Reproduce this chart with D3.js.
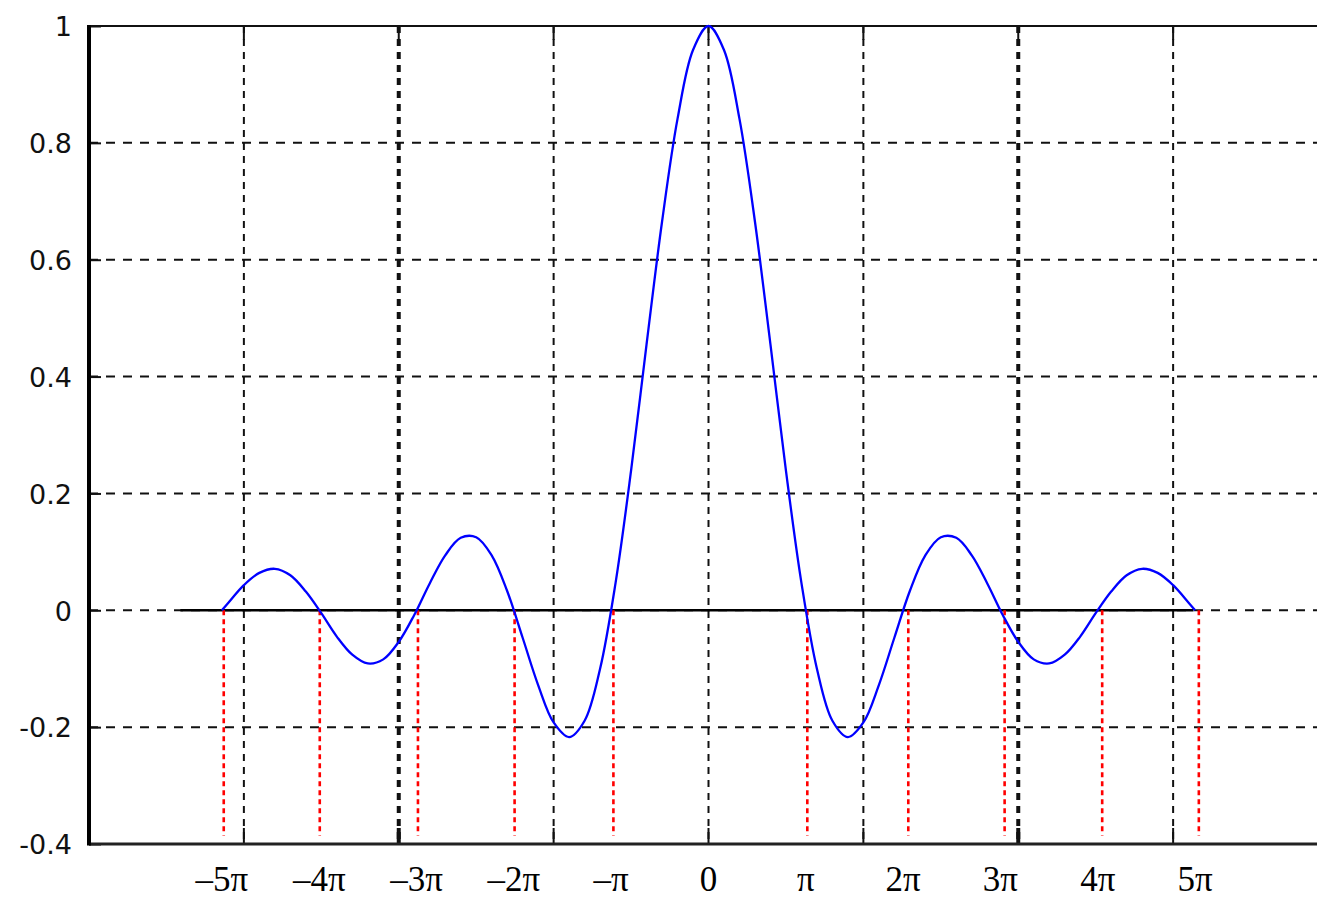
<!DOCTYPE html>
<html>
<head>
<meta charset="utf-8">
<script src="https://cdn.jsdelivr.net/npm/d3@7"></script>
<style>
  body { margin: 0; background: #fff; }
  svg { display: block; }
  .ylab text { font-family: "DejaVu Sans", sans-serif; font-size: 27px; fill: #111; }
  .xlab text { font-family: "Liberation Serif", "Times New Roman", serif; font-size: 35px; fill: #000; }
</style>
</head>
<body>
<svg id="chart" width="1317" height="900"></svg>
<script>
// sinc curve, values
var curveX = [-15.71, -15.5, -15, -14.5, -14, -13.5, -13, -12.5, -12, -11.5, -11, -10.5, -10, -9.5, -9, -8.5, -8, -7.5, -7, -6.5, -6, -5.5, -5, -4.5, -4, -3.5, -3, -2.5, -2, -1.5, -1, -0.5,
  0, 0.5, 1, 1.5, 2, 2.5, 3, 3.5, 4, 4.5, 5, 5.5, 6, 6.5, 7, 7.5, 8, 8.5, 9, 9.5, 10, 10.5, 11, 11.5, 12, 12.5, 13, 13.5, 14, 14.5, 15, 15.5, 15.71];
var curveY = [0, 0.013, 0.043, 0.064, 0.071, 0.060, 0.032, -0.005, -0.045, -0.076, -0.091, -0.084, -0.054, -0.008, 0.046, 0.094, 0.124, 0.125, 0.094, 0.033, -0.047, -0.128, -0.192, -0.217, -0.189, -0.100, 0.047, 0.239, 0.455, 0.665, 0.841, 0.959,
  1, 0.959, 0.841, 0.665, 0.455, 0.239, 0.047, -0.100, -0.189, -0.217, -0.192, -0.128, -0.047, 0.033, 0.094, 0.125, 0.124, 0.094, 0.046, -0.008, -0.054, -0.084, -0.091, -0.076, -0.045, -0.005, 0.032, 0.060, 0.071, 0.064, 0.043, 0.013, 0];

// zero markers (red dotted) as drawn
var zeroMarks = [-15.65, -12.55, -9.38, -6.26, -3.07, 3.19, 6.45, 9.56, 12.71, 15.83];
var zeroMarkBottom = -0.386;
var zeroLine = [-17.05, 15.66];

var yTicks = [-0.4, -0.2, 0, 0.2, 0.4, 0.6, 0.8, 1];
var xGrid = [-15, -10, -5, 0, 5, 10, 15];
var xGridBold = [-10, 10];
var piMult = [-5, -4, -3, -2, -1, 0, 1, 2, 3, 4, 5];
var piLabels = ['\u20135\u03c0', '\u20134\u03c0', '\u20133\u03c0', '\u20132\u03c0', '\u2013\u03c0', '0', '\u03c0', '2\u03c0', '3\u03c0', '4\u03c0', '5\u03c0'];

var svg = d3.select('#chart');
var x = d3.scaleLinear().domain([-20, 20]).range([89, 1328]);
var y = d3.scaleLinear().domain([-0.4, 1]).range([844, 26]);
var x0 = x.range()[0], x1 = x.range()[1], yTop = y.range()[1], yBot = y.range()[0];

// grid
var grid = svg.append('g');
grid.selectAll('.hg').data(yTicks.filter(function(d) { return d > -0.4 && d < 1; })).join('line')
  .attr('x1', x0).attr('x2', x1).attr('y1', function(d) { return y(d); }).attr('y2', function(d) { return y(d); })
  .attr('stroke', '#111').attr('stroke-width', 2).attr('stroke-dasharray', '9,8');
grid.selectAll('.vg').data(xGrid).join('line')
  .attr('x1', function(d) { return x(d); }).attr('x2', function(d) { return x(d); })
  .attr('y1', yTop).attr('y2', yBot)
  .attr('stroke', '#111')
  .attr('stroke-width', function(d) { return xGridBold.indexOf(d) >= 0 ? 4 : 2; })
  .attr('stroke-dasharray', '7,6');

// tick marks (inside)
svg.append('g').selectAll('line').data(xGrid).join('line')
  .attr('x1', function(d) { return x(d); }).attr('x2', function(d) { return x(d); })
  .attr('y1', yBot).attr('y2', yBot - 16)
  .attr('stroke', '#111').attr('stroke-width', function(d) { return xGridBold.indexOf(d) >= 0 ? 4 : 2; });
svg.append('g').selectAll('line').data(xGrid).join('line')
  .attr('x1', function(d) { return x(d); }).attr('x2', function(d) { return x(d); })
  .attr('y1', yTop).attr('y2', yTop + 14)
  .attr('stroke', '#111').attr('stroke-width', 2);

// y axis labels + ticks
var yAxis = svg.append('g').attr('class', 'ylab').attr('transform', 'translate(' + x0 + ',0)')
  .call(d3.axisLeft(y).tickValues(yTicks).tickSizeInner(-12).tickSizeOuter(0).tickPadding(17)
    .tickFormat(function(d) { return String(d); }));
yAxis.select('.domain').remove();
yAxis.selectAll('line').attr('stroke', '#111').attr('stroke-width', 2);
yAxis.selectAll('text').attr('dy', '0.36em');

// zero line
svg.append('line')
  .attr('x1', x(zeroLine[0])).attr('x2', x(zeroLine[1])).attr('y1', y(0)).attr('y2', y(0))
  .attr('stroke', '#000').attr('stroke-width', 2.5);

// red dotted markers
svg.append('g').selectAll('line').data(zeroMarks).join('line')
  .attr('x1', function(d) { return x(d); }).attr('x2', function(d) { return x(d); })
  .attr('y1', y(0)).attr('y2', y(zeroMarkBottom))
  .attr('stroke', '#ff0000').attr('stroke-width', 2.6).attr('stroke-dasharray', '5,4');

// frame
svg.append('line').attr('x1', x0).attr('x2', x1).attr('y1', yTop).attr('y2', yTop)
  .attr('stroke', '#111').attr('stroke-width', 2);
svg.append('line').attr('x1', x0).attr('x2', x1).attr('y1', yBot).attr('y2', yBot)
  .attr('stroke', '#222').attr('stroke-width', 3);
svg.append('line').attr('x1', x0).attr('x2', x0).attr('y1', yTop - 1).attr('y2', yBot + 1.5)
  .attr('stroke', '#000').attr('stroke-width', 4);

// curve
var pts = curveX.map(function(v, i) { return [v, curveY[i]]; });
svg.append('path').datum(pts)
  .attr('fill', 'none').attr('stroke', '#0000ff').attr('stroke-width', 2.3)
  .attr('d', d3.line().x(function(d) { return x(d[0]); }).y(function(d) { return y(d[1]); }).curve(d3.curveCatmullRom));

// pi labels
svg.append('g').attr('class', 'xlab').selectAll('text').data(piMult).join('text')
  .attr('x', function(d) { return x(d * Math.PI); }).attr('y', 891)
  .attr('text-anchor', 'middle')
  .text(function(d, i) { return piLabels[i]; });
</script>
</body>
</html>
